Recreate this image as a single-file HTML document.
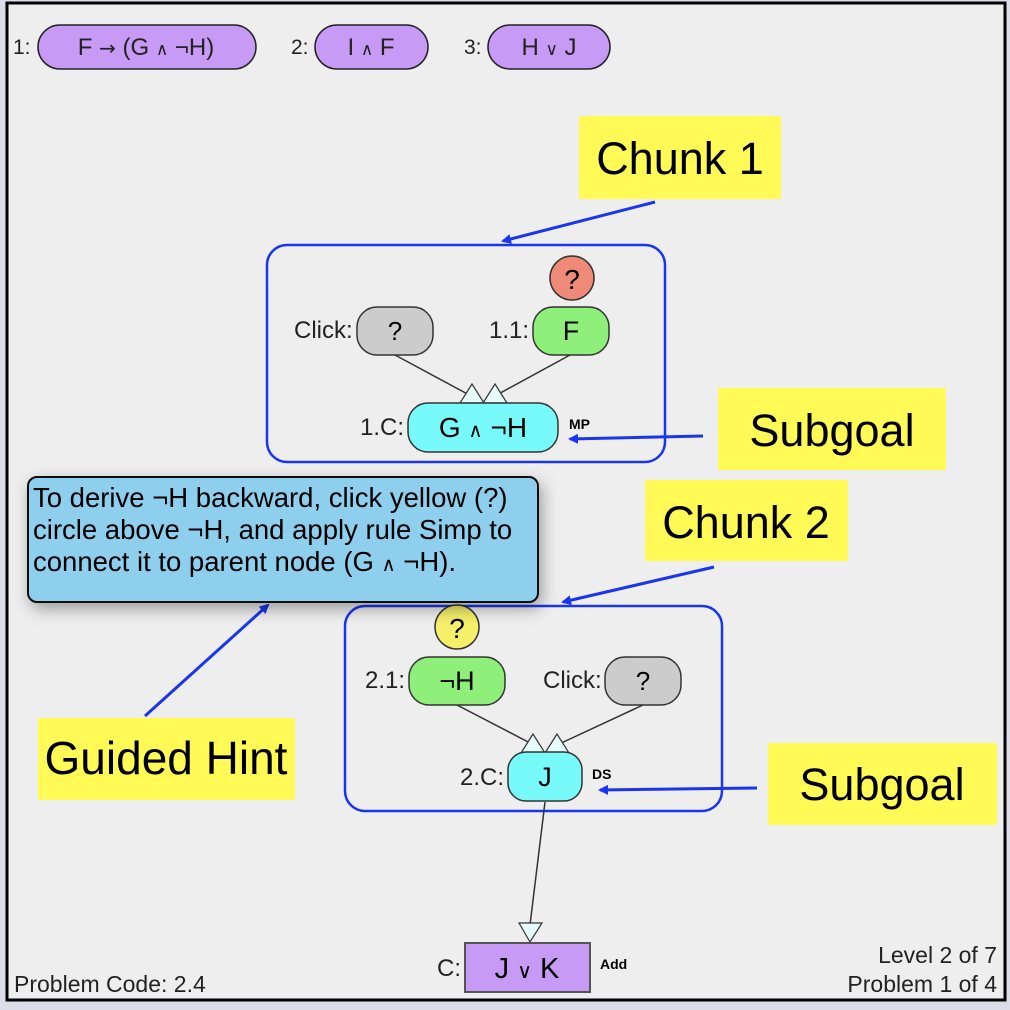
<!DOCTYPE html>
<html><head><meta charset="utf-8"><style>
html,body{margin:0;padding:0;background:#dcdde9;}
svg{display:block;font-family:"Liberation Sans",Arial,sans-serif;}
.s{font-size:70%;}
</style></head><body>
<svg width="1010" height="1010" viewBox="0 0 1010 1010" xmlns="http://www.w3.org/2000/svg">
<defs>
<marker id="ah" markerWidth="10" markerHeight="10" refX="8" refY="5" orient="auto" markerUnits="userSpaceOnUse" viewBox="0 0 10 10">
<path d="M0,0 L10,5 L0,10 z" fill="#1a35f0"/></marker>
<filter id="sh" x="-10%" y="-10%" width="130%" height="140%"><feDropShadow dx="3" dy="6" stdDeviation="8" flood-color="#000" flood-opacity="0.35"/></filter>
</defs>
<rect x="7" y="3" width="998" height="997" fill="#eeeeee" stroke="#000" stroke-width="3"/>

<!-- premises -->
<g font-size="21" fill="#222">
<text x="13" y="54">1:</text>
<rect x="38" y="25" width="218" height="44" rx="22" fill="#c79af5" stroke="#222" stroke-width="1.5"/>
<text x="146" y="55" text-anchor="middle" font-size="24">F <tspan font-family="DejaVu Sans" font-size="20">→</tspan> (G <tspan class="s">∧</tspan> ¬H)</text>
<text x="291" y="54">2:</text>
<rect x="315" y="25" width="113" height="44" rx="22" fill="#c79af5" stroke="#222" stroke-width="1.5"/>
<text x="371" y="55" text-anchor="middle" font-size="24">I <tspan class="s">∧</tspan> F</text>
<text x="464" y="54">3:</text>
<rect x="488" y="25" width="122" height="44" rx="22" fill="#c79af5" stroke="#222" stroke-width="1.5"/>
<text x="549" y="55" text-anchor="middle" font-size="24">H <tspan class="s">∨</tspan> J</text>
</g>

<!-- Chunk 1 label -->
<rect x="579" y="116" width="202" height="83" fill="#fffa55"/>
<text x="680" y="174" text-anchor="middle" font-size="45">Chunk 1</text>
<line x1="655" y1="202" x2="503" y2="241" stroke="#1a35f0" stroke-width="3" marker-end="url(#ah)"/>

<!-- Box 1 -->
<rect x="267" y="245" width="398" height="217" rx="20" fill="none" stroke="#1a35f0" stroke-width="2.5"/>
<circle cx="572" cy="278" r="22" fill="#f08a78" stroke="#333" stroke-width="1.5"/>
<text x="572" y="289" text-anchor="middle" font-size="28">?</text>
<line x1="395" y1="355" x2="473" y2="397" stroke="#333" stroke-width="1.5"/>
<line x1="570" y1="355" x2="493" y2="397" stroke="#333" stroke-width="1.5"/>
<polygon points="472,384 460,403 484,403" fill="#e6fbfb" stroke="#333" stroke-width="1.2"/>
<polygon points="495,384 483,403 507,403" fill="#e6fbfb" stroke="#333" stroke-width="1.2"/>
<text x="294" y="338" font-size="24" fill="#222">Click:</text>
<rect x="357" y="307" width="76" height="48" rx="20" fill="#cccccc" stroke="#333" stroke-width="1.5"/>
<text x="395" y="340" text-anchor="middle" font-size="26">?</text>
<text x="489" y="338" font-size="24" fill="#222">1.1:</text>
<rect x="533" y="307" width="76" height="48" rx="20" fill="#8ef07a" stroke="#333" stroke-width="1.5"/>
<text x="571" y="340" text-anchor="middle" font-size="27">F</text>
<text x="360" y="435" font-size="24" fill="#222">1.C:</text>
<rect x="408" y="403" width="150" height="49" rx="20" fill="#78fafa" stroke="#333" stroke-width="1.5"/>
<text x="483" y="437" text-anchor="middle" font-size="28">G <tspan class="s">∧</tspan> ¬H</text>
<text x="569" y="429" font-size="14" font-weight="bold">MP</text>

<!-- Subgoal 1 -->
<rect x="718" y="388" width="228" height="82" fill="#fffa55"/>
<text x="832" y="446" text-anchor="middle" font-size="45">Subgoal</text>
<line x1="703" y1="436" x2="570" y2="439" stroke="#1a35f0" stroke-width="3" marker-end="url(#ah)"/>

<!-- Chunk 2 -->
<rect x="645" y="480" width="203" height="81" fill="#fffa55"/>
<text x="746" y="538" text-anchor="middle" font-size="45">Chunk 2</text>
<line x1="714" y1="567" x2="563" y2="602" stroke="#1a35f0" stroke-width="3" marker-end="url(#ah)"/>

<!-- Box 2 -->
<rect x="345" y="606" width="377" height="205" rx="20" fill="none" stroke="#1a35f0" stroke-width="2.5"/>
<circle cx="457" cy="627" r="22" fill="#f5ef6a" stroke="#333" stroke-width="1.5"/>
<text x="457" y="638" text-anchor="middle" font-size="28">?</text>
<line x1="457" y1="705" x2="534" y2="745" stroke="#333" stroke-width="1.5"/>
<line x1="643" y1="705" x2="557" y2="745" stroke="#333" stroke-width="1.5"/>
<polygon points="533,734 521,753 545,753" fill="#e6fbfb" stroke="#333" stroke-width="1.2"/>
<polygon points="557,734 545,753 569,753" fill="#e6fbfb" stroke="#333" stroke-width="1.2"/>
<text x="365" y="688" font-size="24" fill="#222">2.1:</text>
<rect x="409" y="657" width="96" height="48" rx="20" fill="#8ef07a" stroke="#333" stroke-width="1.5"/>
<text x="457" y="690" text-anchor="middle" font-size="27">¬H</text>
<text x="543" y="688" font-size="24" fill="#222">Click:</text>
<rect x="605" y="657" width="76" height="48" rx="20" fill="#cccccc" stroke="#333" stroke-width="1.5"/>
<text x="643" y="690" text-anchor="middle" font-size="26">?</text>
<text x="460" y="785" font-size="24" fill="#222">2.C:</text>
<rect x="508" y="752" width="74" height="49" rx="18" fill="#78fafa" stroke="#333" stroke-width="1.5"/>
<text x="545" y="786" text-anchor="middle" font-size="27">J</text>
<text x="592" y="779" font-size="14" font-weight="bold">DS</text>

<!-- Subgoal 2 -->
<rect x="768" y="743" width="229" height="82" fill="#fffa55"/>
<text x="882" y="800" text-anchor="middle" font-size="45">Subgoal</text>
<line x1="757" y1="788" x2="600" y2="790" stroke="#1a35f0" stroke-width="3" marker-end="url(#ah)"/>

<!-- conclusion -->
<line x1="545" y1="802" x2="530" y2="925" stroke="#333" stroke-width="1.5"/>
<polygon points="519,923 542,923 530,942" fill="#e6fbfb" stroke="#333" stroke-width="1.2"/>
<text x="437" y="976" font-size="24" fill="#222">C:</text>
<rect x="465" y="943" width="125" height="49" fill="#c79af5" stroke="#555" stroke-width="2"/>
<text x="527" y="978" text-anchor="middle" font-size="29">J <tspan class="s">∨</tspan> K</text>
<text x="600" y="969" font-size="14" font-weight="bold">Add</text>

<text x="14" y="992" font-size="23" fill="#222">Problem Code: 2.4</text>
<text x="997" y="963" text-anchor="end" font-size="23" fill="#222">Level 2 of 7</text>
<text x="997" y="992" text-anchor="end" font-size="23" fill="#222">Problem 1 of 4</text>

<!-- Guided hint -->
<rect x="38" y="718" width="257" height="82" fill="#fffa55"/>
<text x="166" y="774" text-anchor="middle" font-size="46">Guided Hint</text>
<line x1="145" y1="716" x2="268" y2="605" stroke="#1a35f0" stroke-width="3" marker-end="url(#ah)"/>

<!-- tooltip -->
<rect x="28" y="477" width="510" height="125" rx="9" fill="#8fcfee" stroke="#111" stroke-width="2" filter="url(#sh)"/>
<g font-size="27.5" fill="#000">
<text x="33" y="507">To derive ¬H backward, click yellow (?)</text>
<text x="33" y="539">circle above ¬H, and apply rule Simp to</text>
<text x="33" y="571">connect it to parent node (G <tspan class="s">∧</tspan> ¬H).</text>
</g>
</svg>
</body></html>
